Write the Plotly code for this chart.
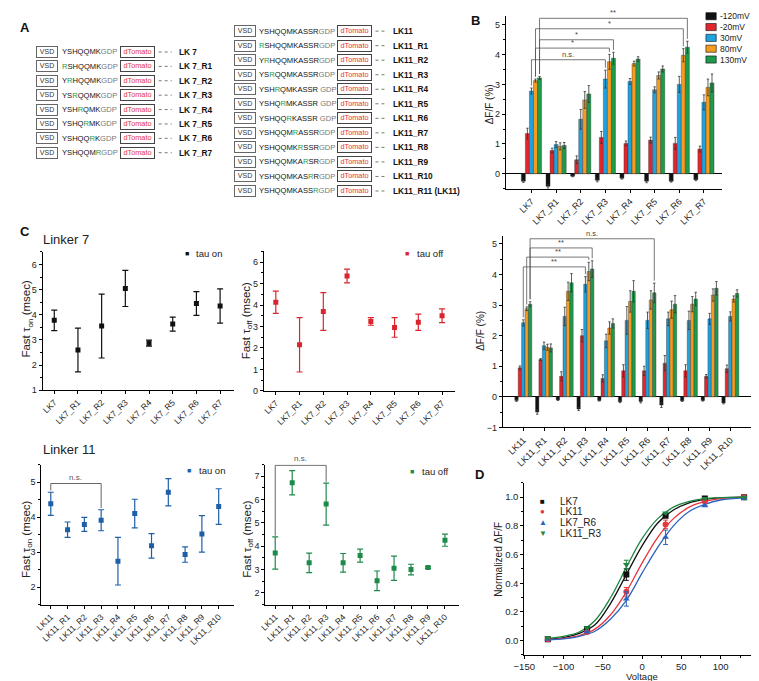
import plotly.graph_objects as go

W, H = 759, 681
FONT = 'Liberation Sans, Arial, Helvetica, sans-serif'


def fx(p):
    return p / W


def fy(p):
    return 1 - p / H


# ---------------- panel A: linker constructs ----------------
lk7_seqs = ['YSHQQMKGDP', 'RSHQQMKGDP', 'YRHQQMKGDP', 'YSRQQMKGDP',
            'YSHRQMKGDP', 'YSHQRMKGDP', 'YSHQQRKGDP', 'YSHQQMRGDP']
lk7_mut = [None, 0, 1, 2, 3, 4, 5, 6]
lk7_rows = ['LK 7', 'LK 7_R1', 'LK 7_R2', 'LK 7_R3', 'LK 7_R4', 'LK 7_R5',
            'LK 7_R6', 'LK 7_R7']
lk11_seqs = ['YSHQQMKASSRGDP', 'RSHQQMKASSRGDP', 'YRHQQMKASSRGDP', 'YSRQQMKASSRGDP',
             'YSHRQMKASSR GDP', 'YSHQRMKASSR GDP', 'YSHQQRKASSR GDP', 'YSHQQMRASSRGDP',
             'YSHQQMKRSSRGDP', 'YSHQQMKARSRGDP', 'YSHQQMKASRRGDP', 'YSHQQMKASSRGDP']
lk11_mut = [None, 0, 1, 2, 3, 4, 5, 6, 7, 8, 9, 10]
lk11_rows = ['LK11', 'LK11_R1', 'LK11_R2', 'LK11_R3', 'LK11_R4', 'LK11_R5', 'LK11_R6',
             'LK11_R7', 'LK11_R8', 'LK11_R9', 'LK11_R10', 'LK11_R11 (LK11)']

# ---------------- panel B: dF/F bars ----------------
lk7_names = ['LK7', 'LK7_R1', 'LK7_R2', 'LK7_R3', 'LK7_R4', 'LK7_R5', 'LK7_R6', 'LK7_R7']
lk11_names = ['LK11', 'LK11_R1', 'LK11_R2', 'LK11_R3', 'LK11_R4', 'LK11_R5', 'LK11_R6',
              'LK11_R7', 'LK11_R8', 'LK11_R9', 'LK11_R10']
volt_names = ['-120mV', '-20mV', '30mV', '80mV', '130mV']
volt_colors = ['#111111', '#e3262d', '#1fa2de', '#f59b1f', '#1d9a4b']

lk7_m120 = [-0.25, -0.42, -0.08, -0.22, -0.15, -0.25, -0.25, -0.2]
lk7_m120_err = [0.04, 0.06, 0.02, 0.05, 0.03, 0.05, 0.03, 0.03]
lk7_m20 = [1.35, 0.78, 0.47, 1.22, 1.02, 1.13, 1.02, 0.83]
lk7_m20_err = [0.18, 0.08, 0.13, 0.2, 0.08, 0.1, 0.2, 0.1]
lk7_30 = [2.78, 0.98, 1.83, 3.18, 3.1, 2.82, 3.0, 2.4]
lk7_30_err = [0.1, 0.1, 0.33, 0.3, 0.1, 0.1, 0.27, 0.25]
lk7_80 = [3.13, 0.92, 2.48, 3.76, 3.7, 3.3, 3.98, 2.9]
lk7_80_err = [0.05, 0.12, 0.28, 0.25, 0.08, 0.12, 0.22, 0.28]
lk7_130 = [3.22, 0.95, 2.68, 3.88, 3.85, 3.52, 4.25, 3.05]
lk7_130_err = [0.05, 0.1, 0.28, 0.2, 0.08, 0.1, 0.2, 0.3]

lk11_m120 = [-0.12, -0.5, -0.1, -0.4, -0.12, -0.16, -0.15, -0.27, -0.13, -0.12, -0.2]
lk11_m120_err = [0.03, 0.07, 0.02, 0.05, 0.02, 0.03, 0.05, 0.08, 0.02, 0.02, 0.03]
lk11_m20 = [0.95, 1.22, 0.67, 2.0, 0.6, 0.85, 0.85, 1.1, 0.85, 0.67, 0.92]
lk11_m20_err = [0.06, 0.03, 0.15, 0.2, 0.12, 0.2, 0.15, 0.25, 0.2, 0.06, 0.12]
lk11_30 = [2.42, 1.67, 2.63, 3.68, 1.83, 2.5, 2.5, 2.55, 2.5, 2.55, 2.63]
lk11_30_err = [0.1, 0.12, 0.3, 0.25, 0.22, 0.45, 0.27, 0.22, 0.3, 0.18, 0.15]
lk11_80 = [2.88, 1.62, 3.45, 4.1, 2.25, 3.12, 3.17, 2.85, 3.03, 3.33, 3.2]
lk11_80_err = [0.06, 0.1, 0.3, 0.3, 0.2, 0.35, 0.3, 0.28, 0.25, 0.2, 0.1]
lk11_130 = [3.03, 1.6, 3.73, 4.18, 2.4, 3.45, 3.4, 3.03, 3.2, 3.55, 3.38]
lk11_130_err = [0.08, 0.13, 0.3, 0.27, 0.15, 0.35, 0.32, 0.28, 0.22, 0.22, 0.12]

# (group a, bar a, group b, bar b, bracket height, label)
lk7_sig = [(0, 2, 3, 2, 3.83, 'n.s.'), (0, 3, 3, 3, 4.22, '*'), (0, 4, 3, 4, 4.5, '*'),
           (0, 3, 6, 3, 4.87, '*'), (0, 4, 6, 4, 5.22, '**')]
lk11_sig = [(0, 2, 3, 2, 4.25, '**'), (0, 3, 3, 3, 4.57, '**'), (0, 4, 3, 4, 4.87, '**'),
            (0, 4, 6, 4, 5.17, 'n.s.')]

# ---------------- panel C: kinetics ----------------
lk7_tau_on = [3.78, 2.6, 3.55, 5.05, 2.87, 3.63, 4.45, 4.35]
lk7_tau_on_err = [0.41, 0.87, 1.27, 0.72, 0.12, 0.28, 0.47, 0.68]
lk7_tau_off = [4.13, 2.15, 3.7, 5.36, 3.24, 2.96, 3.2, 3.5]
lk7_tau_off_err = [0.52, 1.27, 0.88, 0.32, 0.18, 0.46, 0.38, 0.32]
lk11_tau_on = [4.38, 3.64, 3.79, 3.91, 2.74, 4.1, 3.18, 4.71, 2.93, 3.52, 4.3]
lk11_tau_on_err = [0.33, 0.22, 0.2, 0.3, 0.68, 0.41, 0.35, 0.39, 0.22, 0.52, 0.51]
lk11_tau_off = [3.71, 6.72, 3.29, 5.81, 3.29, 3.6, 2.52, 3.06, 3.0, 3.09, 4.26]
lk11_tau_off_err = [0.69, 0.52, 0.42, 0.9, 0.4, 0.28, 0.42, 0.52, 0.23, 0.04, 0.26]

# ---------------- panel D: normalized F-V ----------------
d_volt = [-120, -70, -20, 30, 80, 130]
d_lk7 = [0.01, 0.08, 0.46, 0.87, 0.99, 1.0]
d_lk7_err = [None, None, 0.04, None, None, None]
d_lk11 = [0.01, 0.06, 0.34, 0.81, 0.97, 1.0]
d_lk11_err = [None, None, 0.03, 0.03, None, None]
d_lk7r6 = [0.01, 0.06, 0.29, 0.72, 0.94, 0.99]
d_lk7r6_err = [None, None, 0.05, 0.05, None, None]
d_lk11r3 = [0.02, 0.09, 0.53, 0.89, 0.99, 1.0]
d_lk11r3_err = [None, None, 0.03, None, None, None]
fit_volt = [-120, -100, -80, -60, -40, -20, 0, 20, 40, 60, 80, 100, 130]
fit_lk7 = [0.01, 0.02, 0.05, 0.11, 0.26, 0.46, 0.66, 0.82, 0.91, 0.96, 0.985, 0.995, 1.0]
fit_lk11 = [0.005, 0.015, 0.035, 0.08, 0.18, 0.34, 0.54, 0.72, 0.85, 0.93, 0.97, 0.99, 1.0]
fit_lk7r6 = [0.005, 0.012, 0.03, 0.065, 0.15, 0.28, 0.47, 0.65, 0.8, 0.9, 0.95, 0.98, 0.995]
fit_lk11r3 = [0.015, 0.03, 0.06, 0.14, 0.3, 0.51, 0.71, 0.85, 0.93, 0.97, 0.99, 0.997, 1.0]

GREEN_R = '#1d9a4b'
BARGAP = 0.18
BAR_W = (1 - BARGAP) / 5

fig = go.Figure()

# ---- B bars ----
b_top = [(lk7_m120, lk7_m120_err), (lk7_m20, lk7_m20_err), (lk7_30, lk7_30_err),
         (lk7_80, lk7_80_err), (lk7_130, lk7_130_err)]
b_bot = [(lk11_m120, lk11_m120_err), (lk11_m20, lk11_m20_err), (lk11_30, lk11_30_err),
         (lk11_80, lk11_80_err), (lk11_130, lk11_130_err)]
for series, names, xa, ya in [(b_top, lk7_names, 'x', 'y'), (b_bot, lk11_names, 'x2', 'y2')]:
    for k, (vals, errs) in enumerate(series):
        fig.add_trace(go.Bar(
            x=list(range(len(names))), y=vals, name=volt_names[k],
            marker=dict(color=volt_colors[k], line=dict(color='#333', width=0.4)),
            error_y=dict(type='data', array=errs, color='#333', thickness=0.8, width=1.2),
            xaxis=xa, yaxis=ya, showlegend=False))


def add_bar_brackets(series, sig, xa, ya):
    for ga, ba, gb, bb, level, label in sig:
        x1 = ga + (ba - 2) * BAR_W
        x2 = gb + (bb - 2) * BAR_W
        y1 = series[ba][0][ga] + series[ba][1][ga] + 0.08
        y2 = series[bb][0][gb] + series[bb][1][gb] + 0.08
        fig.add_shape(type='path', xref=xa, yref=ya,
                      path=f'M {x1},{y1} L {x1},{level} L {x2},{level} L {x2},{y2}',
                      line=dict(color='#555', width=0.8))
        fig.add_annotation(x=(x1 + x2) / 2, y=level, xref=xa, yref=ya, text=label,
                           showarrow=False, yanchor='bottom', yshift=-1,
                           font=dict(size=7.5, color='#444'))


add_bar_brackets(b_top, lk7_sig, 'x', 'y')
add_bar_brackets(b_bot, lk11_sig, 'x2', 'y2')

# ---- C scatter ----
c_sets = [
    (lk7_names, lk7_tau_on, lk7_tau_on_err, '#111111', 'x3', 'y3'),
    (lk7_names, lk7_tau_off, lk7_tau_off_err, '#d9262e', 'x4', 'y4'),
    (lk11_names, lk11_tau_on, lk11_tau_on_err, '#1f5fa8', 'x5', 'y5'),
    (lk11_names, lk11_tau_off, lk11_tau_off_err, '#1e8a4a', 'x6', 'y6'),
]
for names, vals, errs, col, xa, ya in c_sets:
    fig.add_trace(go.Scatter(
        x=list(range(len(names))), y=vals, mode='markers',
        marker=dict(symbol='square', size=5, color=col),
        error_y=dict(type='data', array=errs, color=col, thickness=1.2, width=3),
        xaxis=xa, yaxis=ya, showlegend=False))

for vals, errs, level, xa, ya in [(lk11_tau_on, lk11_tau_on_err, 4.96, 'x5', 'y5'),
                                  (lk11_tau_off, lk11_tau_off_err, 7.47, 'x6', 'y6')]:
    y1 = vals[0] + errs[0] + 0.05
    y2 = vals[3] + errs[3] + 0.05
    fig.add_shape(type='path', xref=xa, yref=ya,
                  path=f'M 0,{y1} L 0,{level} L 3,{level} L 3,{y2}',
                  line=dict(color='#666', width=1))
    fig.add_annotation(x=1.5, y=level, xref=xa, yref=ya, text='n.s.', showarrow=False,
                       yanchor='bottom', yshift=0, font=dict(size=8, color='#555'))

# ---- D ----
d_sets = [
    ('LK7', d_lk7, d_lk7_err, fit_lk7, '#111111', 'square', '■'),
    ('LK11', d_lk11, d_lk11_err, fit_lk11, '#e8363d', 'circle', '●'),
    ('LK7_R6', d_lk7r6, d_lk7r6_err, fit_lk7r6, '#2b64c0', 'triangle-up', '▲'),
    ('LK11_R3', d_lk11r3, d_lk11r3_err, fit_lk11r3, '#1e8540', 'triangle-down', '▼'),
]
for name, vals, errs, fit, col, sym, glyph in d_sets:
    fig.add_trace(go.Scatter(x=fit_volt, y=fit, mode='lines',
                             line=dict(color=col, width=1.3, shape='spline'),
                             xaxis='x7', yaxis='y7', showlegend=False))
for name, vals, errs, fit, col, sym, glyph in d_sets:
    fig.add_trace(go.Scatter(x=d_volt, y=vals, mode='markers',
                             marker=dict(symbol=sym, size=6, color=col),
                             error_y=dict(type='data', array=errs, color=col,
                                          thickness=1, width=2.5),
                             xaxis='x7', yaxis='y7', showlegend=False))


# ---- axes ----
def ax(**kw):
    base = dict(showline=True, linecolor='black', linewidth=1, ticks='outside',
                ticklen=3, tickwidth=1, tickcolor='black', showgrid=False,
                zeroline=False, tickfont=dict(size=9, family=FONT, color='#222'))
    base.update(kw)
    return base


def cat_ax(names, dom, rng, anchor, size=9):
    return ax(domain=[fx(dom[0]), fx(dom[1])], range=rng, anchor=anchor,
              tickvals=list(range(len(names))), ticktext=names, tickangle=-45,
              tickfont=dict(size=size, family=FONT, color='#222'))


def val_ax(dom, rng, anchor, dtick=1, minor=0.5, **kw):
    return ax(domain=[fy(dom[1]), fy(dom[0])], range=rng, anchor=anchor, dtick=dtick,
              tick0=0, minor=dict(ticks='outside', ticklen=2, dtick=minor, tick0=0,
                                  tickcolor='black'), **kw)


fig.update_layout(
    xaxis=cat_ax(lk7_names, (494, 713), [-1.04, 7.72], 'y'),
    yaxis=val_ax((8, 182), [-0.5, 5.3], 'x', zeroline=True, zerolinecolor='black',
                 zerolinewidth=1),
    xaxis2=cat_ax(lk11_names, (491, 743), [-0.986, 11.01], 'y2'),
    yaxis2=val_ax((230, 422.5), [-1, 5.25], 'x2', zeroline=True, zerolinecolor='black',
                  zerolinewidth=1),
    xaxis3=cat_ax(lk7_names, (24, 218), [-0.49, 7.58], 'y3', size=8.5),
    yaxis3=val_ax((245.8, 385), [1, 6.5], 'x3'),
    xaxis4=cat_ax(lk7_names, (248.3, 442.3), [-0.51, 7.54], 'y4', size=8.5),
    yaxis4=val_ax((245.3, 385.7), [0, 6.5], 'x4'),
    xaxis5=cat_ax(lk11_names, (22.7, 218.3), [-0.56, 10.92], 'y5', size=8.5),
    yaxis5=val_ax((460, 601), [1.5, 5.5], 'x5'),
    xaxis6=cat_ax(lk11_names, (250, 446.7), [-0.58, 10.84], 'y6', size=8.5),
    yaxis6=val_ax((460, 601), [1.5, 7.5], 'x6'),
    xaxis7=ax(domain=[fx(512.7), fx(751.7)], range=[-150, 150], anchor='y7', dtick=50,
              minor=dict(ticks='outside', ticklen=2, dtick=25, tickcolor='black'),
              tickfont=dict(size=9.5, family=FONT, color='#222')),
    yaxis7=val_ax((478.3, 651.7), [-0.1, 1.1], 'x7', dtick=0.2, minor=0.1,
                  tickformat='.1f', tickfont=dict(size=9.5, family=FONT, color='#222')),
)

notes = []


def note(x, y, text, size=9, color='#222', xanchor='center', angle=0, bold=False, **kw):
    if bold:
        text = f'<b>{text}</b>'
    notes.append(dict(x=fx(x), y=fy(y), xref='paper', yref='paper', text=text,
                      showarrow=False, xanchor=xanchor, yanchor='middle', textangle=angle,
                      font=dict(size=size, color=color, family=FONT), **kw))


# ---- panel A drawing ----
def seq_html(seq, mut):
    core = seq[:seq.index('GDP')]
    out = ''
    for i, ch in enumerate(core):
        if i == mut:
            out += f'<span style="color:{GREEN_R}">{ch}</span>'
        else:
            out += ch
    return out + '<span style="color:#777">GDP</span>'


shapes = []
for seqs, muts, rows, y0, step, cols in [
        (lk7_seqs, lk7_mut, lk7_rows, 44.3, 14.5, (17.3, 41.7, 102.3, 141.7, 155, 160)),
        (lk11_seqs, lk11_mut, lk11_rows, 23.3, 14.64, (218, 241.7, 322.7, 361.7, 373.3, 377.7))]:
    for i, (s, m, r) in enumerate(zip(seqs, muts, rows)):
        y = y0 + i * step
        note(cols[0], y, 'VSD', size=7, color='#333', xanchor='left', width=18, height=7.5,
             borderpad=1, bordercolor='#666', borderwidth=1)
        note(cols[1], y, seq_html(s, m), size=7.6, color='#111', xanchor='left')
        note(cols[2], y, 'dTomato', size=7.3, color='#e3343c', xanchor='left', width=31,
             height=7.5, borderpad=1, bordercolor='#444', borderwidth=1)
        shapes.append(dict(type='line', xref='paper', yref='paper', x0=fx(cols[3]),
                           x1=fx(cols[4]), y0=fy(y), y1=fy(y),
                           line=dict(color='#555', width=0.8, dash='dot')))
        note(cols[5], y, r, size=8.3, color='#111', xanchor='left', bold=True)

# ---- panel letters and titles ----
note(6, 20, 'A', size=13, color='#111', bold=True)
note(463, 13, 'B', size=13, color='#111', bold=True)
note(6, 225, 'C', size=13, color='#111', bold=True)
note(467, 470, 'D', size=13, color='#111', bold=True)
note(22, 233, 'Linker 7', size=13, xanchor='left')
note(22, 445, 'Linker 11', size=13, xanchor='left')

# ---- axis titles ----
note(477, 97, 'ΔF/F (%)', size=10, angle=-90)
note(468, 325, 'ΔF/F (%)', size=10, angle=-90)
note(8, 313, 'Fast τ<sub>on</sub> (msec)', size=11.5, angle=-90)
note(231, 315, 'Fast τ<sub>off</sub> (msec)', size=11.5, angle=-90)
note(8, 535, 'Fast τ<sub>on</sub> (msec)', size=11.5, angle=-90)
note(232, 535, 'Fast τ<sub>off</sub> (msec)', size=11.5, angle=-90)
note(487, 555, 'Normalized ΔF/F', size=10, angle=-90)
note(632, 673, 'Voltage', size=9.5)

# ---- legends ----
for k, (name, col) in enumerate(zip(volt_names, volt_colors)):
    yc = 8.3 + k * 10.9
    shapes.append(dict(type='rect', xref='paper', yref='paper', x0=fx(697), x1=fx(707.5),
                       y0=fy(yc + 3.6), y1=fy(yc - 3.6), fillcolor=col,
                       line=dict(color='#111', width=0.6)))
    note(709, yc, name, size=8.5, xanchor='left')

for k, (name, vals, errs, fit, col, sym, glyph) in enumerate(d_sets):
    yc = 496.7 + k * 10.9
    note(531.7, yc, glyph, size=8, color=col)
    note(546.7, yc, name, size=10, xanchor='left')

for mx, tx, yc, col, lab in [(170, 178, 247, '#111111', 'tau on'),
                             (393.3, 402, 247, '#d9262e', 'tau off'),
                             (173, 181, 466, '#1f5fa8', 'tau on'),
                             (399, 407, 467, '#1e8a4a', 'tau off')]:
    note(mx, yc, '■', size=7, color=col)
    note(tx, yc, lab, size=9.5, xanchor='left')

fig.update_layout(
    width=W, height=H, autosize=False, margin=dict(l=0, r=0, t=0, b=0),
    paper_bgcolor='white', plot_bgcolor='white', barmode='group', bargap=BARGAP,
    bargroupgap=0, showlegend=False, font=dict(family=FONT, size=9, color='#222'),
)
fig.update_layout(annotations=list(fig.layout.annotations) + notes,
                  shapes=list(fig.layout.shapes) + shapes)

fig.write_html('out.html')
